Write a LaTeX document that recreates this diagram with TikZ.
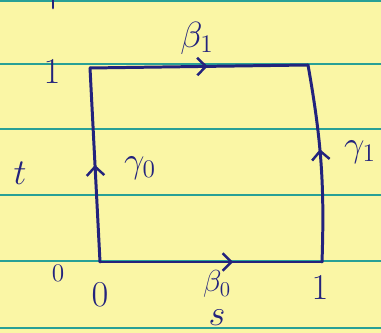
\documentclass[tikz,border=0pt]{standalone}
\usepackage{amsmath}
\usepackage{tikz}
\usetikzlibrary{arrows.meta,decorations.markings}

\definecolor{paper}{RGB}{250,246,165}
\definecolor{ruling}{RGB}{40,160,150}
\definecolor{ink}{RGB}{35,35,125}

\tikzset{
  side/.style={draw=ink,line width=1.7pt,line cap=round},
  midarrow/.style={postaction={decorate,decoration={markings,
      mark=at position #1 with {\arrow[ink,line width=1.4pt]{Straight Barb[length=5pt,width=10pt]}}}}},
  lab/.style={text=ink,font=\huge},
}

\begin{document}
\begin{tikzpicture}[x=0.02cm,y=-0.02cm]

  \clip (0,0) rectangle (381,333);
  \fill[paper] (0,0) rectangle (381,333);
  \foreach \y in {1,64,129,195,261,328}
    \draw[ruling,line width=1.1pt] (0,\y) -- (381,\y);

  % corners of the square
  \coordinate (A) at (100,262);
  \coordinate (B) at (322,262);
  \coordinate (C) at (308,65);
  \coordinate (D) at (90,68);

  \draw[side,midarrow=0.6] (A) -- (B);
  \draw[side,midarrow=0.57] (B) to[bend right=6] (C);
  \draw[side,midarrow=0.54] (D) -- (C);
  \draw[side,midarrow=0.5] (A) -- (D);
  \draw[side] (53,0) -- (53,8);

  \node (b1) [lab] at (197,38)  {$\beta_1$};
  \node (b0) [lab,font=\LARGE,inner sep=0pt] at (217,284) {$\beta_0$};
  \node (g0) [lab] at (140,168) {$\gamma_0$};
  \node (g1) [lab] at (360,152) {$\gamma_1$};
  \node (t)  [lab] at (20,173)  {$t$};
  \node (s)  [lab,inner sep=0pt] at (217,318) {$s$};
  \node (oneT)  [lab] at (52,72)   {$1$};
  \node (zeroT) [lab,font=\Large] at (58,273) {$0$};
  \node (zeroS) [lab] at (100,295) {$0$};
  \node (oneS)  [lab] at (320,288) {$1$};

\end{tikzpicture}
\end{document}
